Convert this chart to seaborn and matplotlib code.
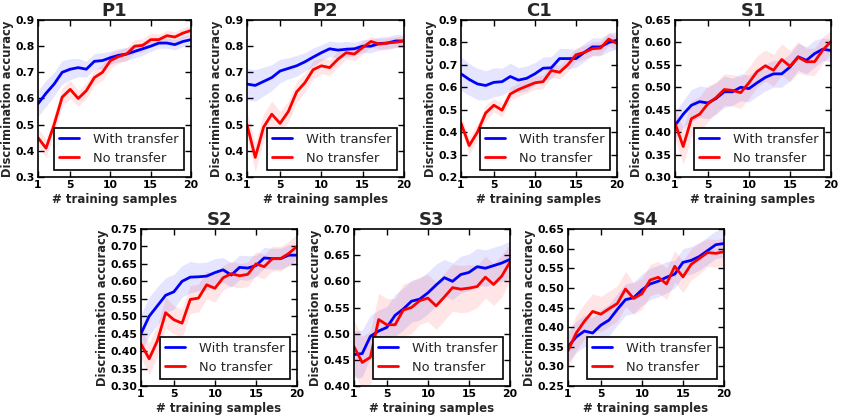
import numpy as np
import pandas as pd
import matplotlib
matplotlib.use("Agg")
import matplotlib.pyplot as plt
import seaborn as sns

x = list(range(1, 21))
titles = ["P1", "P2", "C1", "S1", "S2", "S3", "S4"]

p1_with = [0.58, 0.62, 0.655, 0.70, 0.712, 0.718, 0.712, 0.742, 0.745, 0.756, 0.765, 0.77, 0.78, 0.79, 0.80, 0.812, 0.812, 0.806, 0.818, 0.825]
p1_no = [0.45, 0.41, 0.50, 0.605, 0.635, 0.60, 0.63, 0.68, 0.70, 0.745, 0.76, 0.77, 0.80, 0.803, 0.825, 0.825, 0.84, 0.835, 0.85, 0.86]
p1_with_err = [0.05, 0.05, 0.045, 0.045, 0.04, 0.035, 0.03, 0.03, 0.03, 0.025, 0.025, 0.025, 0.025, 0.025, 0.02, 0.02, 0.02, 0.02, 0.02, 0.02]
p1_no_err = [0.035, 0.035, 0.035, 0.035, 0.035, 0.03, 0.03, 0.03, 0.03, 0.03, 0.025, 0.025, 0.025, 0.025, 0.025, 0.02, 0.02, 0.02, 0.02, 0.02]

p2_with = [0.655, 0.65, 0.665, 0.68, 0.705, 0.715, 0.725, 0.74, 0.758, 0.775, 0.79, 0.785, 0.788, 0.79, 0.80, 0.80, 0.81, 0.812, 0.82, 0.82]
p2_no = [0.50, 0.375, 0.49, 0.54, 0.505, 0.55, 0.625, 0.66, 0.71, 0.725, 0.718, 0.75, 0.775, 0.77, 0.795, 0.818, 0.808, 0.812, 0.815, 0.82]
p2_with_err = [0.06, 0.06, 0.055, 0.05, 0.045, 0.04, 0.04, 0.035, 0.035, 0.03, 0.03, 0.03, 0.03, 0.025, 0.025, 0.025, 0.025, 0.025, 0.025, 0.025]
p2_no_err = [0.05, 0.055, 0.05, 0.05, 0.045, 0.04, 0.04, 0.035, 0.035, 0.03, 0.03, 0.03, 0.025, 0.025, 0.025, 0.02, 0.02, 0.02, 0.02, 0.02]

c1_with = [0.66, 0.635, 0.615, 0.608, 0.622, 0.625, 0.648, 0.632, 0.64, 0.66, 0.685, 0.687, 0.728, 0.728, 0.728, 0.755, 0.78, 0.78, 0.80, 0.81]
c1_no = [0.44, 0.34, 0.40, 0.485, 0.52, 0.498, 0.57, 0.59, 0.605, 0.62, 0.625, 0.675, 0.667, 0.70, 0.745, 0.755, 0.772, 0.775, 0.815, 0.795]
c1_with_err = [0.075, 0.07, 0.07, 0.065, 0.065, 0.06, 0.06, 0.055, 0.055, 0.05, 0.05, 0.05, 0.045, 0.045, 0.04, 0.04, 0.04, 0.04, 0.04, 0.04]
c1_no_err = [0.03, 0.04, 0.035, 0.035, 0.03, 0.03, 0.03, 0.03, 0.03, 0.03, 0.03, 0.03, 0.03, 0.03, 0.03, 0.03, 0.03, 0.03, 0.03, 0.03]

s1_with = [0.415, 0.44, 0.46, 0.468, 0.465, 0.475, 0.49, 0.49, 0.50, 0.497, 0.51, 0.522, 0.53, 0.53, 0.545, 0.568, 0.56, 0.575, 0.585, 0.582]
s1_no = [0.42, 0.368, 0.43, 0.44, 0.463, 0.477, 0.495, 0.493, 0.488, 0.51, 0.535, 0.548, 0.538, 0.562, 0.547, 0.567, 0.557, 0.557, 0.583, 0.602]
s1_with_err = [0.03, 0.03, 0.035, 0.035, 0.035, 0.035, 0.035, 0.03, 0.03, 0.03, 0.03, 0.03, 0.03, 0.03, 0.03, 0.03, 0.03, 0.03, 0.025, 0.025]
s1_no_err = [0.035, 0.04, 0.04, 0.04, 0.04, 0.035, 0.035, 0.035, 0.035, 0.035, 0.035, 0.035, 0.035, 0.035, 0.035, 0.035, 0.03, 0.03, 0.03, 0.025]

s2_with = [0.45, 0.50, 0.53, 0.56, 0.57, 0.60, 0.612, 0.613, 0.615, 0.625, 0.633, 0.618, 0.64, 0.638, 0.645, 0.667, 0.665, 0.665, 0.675, 0.675]
s2_no = [0.42, 0.378, 0.43, 0.51, 0.49, 0.48, 0.548, 0.552, 0.59, 0.58, 0.61, 0.622, 0.616, 0.62, 0.65, 0.642, 0.665, 0.665, 0.68, 0.70]
s2_with_err = [0.055, 0.055, 0.055, 0.05, 0.05, 0.045, 0.045, 0.04, 0.04, 0.04, 0.035, 0.035, 0.035, 0.035, 0.03, 0.03, 0.03, 0.03, 0.03, 0.03]
s2_no_err = [0.04, 0.045, 0.045, 0.045, 0.04, 0.04, 0.04, 0.04, 0.04, 0.04, 0.035, 0.035, 0.035, 0.035, 0.035, 0.035, 0.035, 0.035, 0.035, 0.035]

s3_with = [0.46, 0.462, 0.495, 0.505, 0.512, 0.535, 0.547, 0.562, 0.566, 0.578, 0.593, 0.607, 0.60, 0.613, 0.617, 0.628, 0.625, 0.63, 0.635, 0.642]
s3_no = [0.475, 0.445, 0.455, 0.527, 0.517, 0.517, 0.545, 0.55, 0.563, 0.568, 0.553, 0.57, 0.588, 0.585, 0.587, 0.59, 0.608, 0.594, 0.61, 0.637]
s3_with_err = [0.045, 0.045, 0.04, 0.04, 0.04, 0.04, 0.04, 0.04, 0.04, 0.04, 0.04, 0.035, 0.035, 0.035, 0.035, 0.035, 0.035, 0.035, 0.035, 0.035]
s3_no_err = [0.05, 0.05, 0.05, 0.05, 0.05, 0.05, 0.05, 0.05, 0.045, 0.045, 0.045, 0.045, 0.045, 0.045, 0.045, 0.04, 0.04, 0.04, 0.04, 0.035]

s4_with = [0.35, 0.375, 0.39, 0.385, 0.405, 0.418, 0.445, 0.47, 0.475, 0.495, 0.51, 0.517, 0.527, 0.535, 0.565, 0.57, 0.58, 0.595, 0.61, 0.613]
s4_no = [0.34, 0.385, 0.415, 0.44, 0.433, 0.447, 0.46, 0.497, 0.473, 0.485, 0.52, 0.527, 0.51, 0.555, 0.528, 0.56, 0.575, 0.59, 0.588, 0.592]
s4_with_err = [0.04, 0.04, 0.04, 0.04, 0.04, 0.04, 0.04, 0.04, 0.04, 0.04, 0.04, 0.04, 0.04, 0.035, 0.035, 0.035, 0.035, 0.035, 0.035, 0.035]
s4_no_err = [0.045, 0.045, 0.045, 0.045, 0.045, 0.045, 0.045, 0.045, 0.04, 0.04, 0.04, 0.04, 0.04, 0.04, 0.04, 0.04, 0.04, 0.035, 0.035, 0.035]

ylims = [(0.3, 0.9), (0.3, 0.9), (0.2, 0.9), (0.30, 0.65), (0.30, 0.75), (0.40, 0.70), (0.25, 0.65)]
ysteps = [0.1, 0.1, 0.1, 0.05, 0.05, 0.05, 0.05]
yfmt = ["%.1f", "%.1f", "%.1f", "%.2f", "%.2f", "%.2f", "%.2f"]

series = [
    (p1_with, p1_with_err, p1_no, p1_no_err),
    (p2_with, p2_with_err, p2_no, p2_no_err),
    (c1_with, c1_with_err, c1_no, c1_no_err),
    (s1_with, s1_with_err, s1_no, s1_no_err),
    (s2_with, s2_with_err, s2_no, s2_no_err),
    (s3_with, s3_with_err, s3_no, s3_no_err),
    (s4_with, s4_with_err, s4_no, s4_no_err),
]

sns.set_theme(style="white")
plt.rcParams.update({
    "font.family": ["DejaVu Sans"],
    "font.weight": "bold",
    "axes.labelweight": "bold",
    "axes.titleweight": "bold",
    "axes.edgecolor": "black",
    "axes.linewidth": 1.2,
    "xtick.direction": "in",
    "ytick.direction": "in",
    "xtick.top": True,
    "ytick.right": True,
    "xtick.bottom": True,
    "ytick.left": True,
    "xtick.major.size": 4,
    "ytick.major.size": 4,
    "xtick.major.width": 1.0,
    "ytick.major.width": 1.0,
    "xtick.color": "black",
    "ytick.color": "black",
})

W, H = 843, 418
fig = plt.figure(figsize=(W / 100, H / 100), dpi=100)

# pixel boxes (left, top, right, bottom)
boxes = [(38, 20, 191, 177), (247, 20, 404, 177), (461, 20, 617, 177), (675, 20, 831, 177),
         (141, 229, 297, 386), (354, 229, 510, 386), (568, 229, 724, 386)]

for i, (title, (yw, ew, yn, en)) in enumerate(zip(titles, series)):
    l, t, r, b = boxes[i]
    ax = fig.add_axes([l / W, 1 - b / H, (r - l) / W, (b - t) / H])
    df = pd.DataFrame({"x": x * 2,
                       "acc": yw + yn,
                       "series": ["With transfer"] * 20 + ["No transfer"] * 20})
    for yv, ev, col in [(yw, ew, "#0000ff"), (yn, en, "#ff0000")]:
        ya = np.array(yv)
        ea = np.array(ev)
        ax.fill_between(x, ya - ea, ya + ea, color=col, alpha=0.1, linewidth=0)
    sns.lineplot(data=df, x="x", y="acc", hue="series",
                 palette={"With transfer": "#0000ff", "No transfer": "#ff0000"},
                 linewidth=2, ax=ax, errorbar=None)
    ax.set_xlim(1, 20)
    ax.set_ylim(*ylims[i])
    ax.set_xticks([1, 5, 10, 15, 20])
    lo, hi = ylims[i]
    yt = np.arange(lo, hi + 1e-9, ysteps[i])
    ax.set_yticks(yt)
    ax.set_yticklabels([yfmt[i] % v for v in yt])
    ax.tick_params(labelsize=7.8, pad=2.5)
    for lab in ax.get_xticklabels() + ax.get_yticklabels():
        lab.set_fontweight("bold")
    ax.set_xlabel("# training samples", fontsize=8.5, fontweight="bold", labelpad=2)
    ax.set_ylabel("Discrimination accuracy", fontsize=8.3, fontweight="bold", labelpad=1)
    ax.set_title(title, fontsize=13, fontweight="bold", pad=3)
    for sp in ax.spines.values():
        sp.set_visible(True)
        sp.set_color("black")
    leg = ax.legend(loc="lower right", prop={"size": 9.4, "weight": "normal"},
                    frameon=True, fancybox=False, edgecolor="black",
                    borderaxespad=0.55, handlelength=1.5, handletextpad=1.1,
                    borderpad=0.4, labelspacing=0.45)
    leg.get_frame().set_linewidth(1.2)
    leg.get_frame().set_alpha(1)

fig.savefig("out.png", dpi=100)
